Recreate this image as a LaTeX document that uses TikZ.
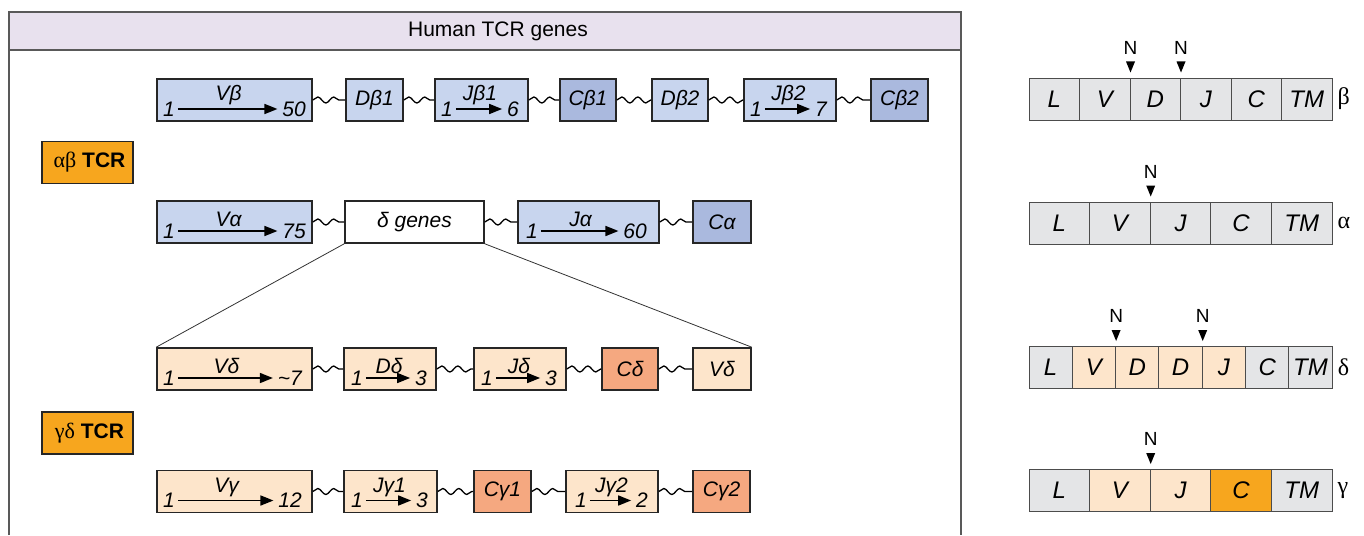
\documentclass[tikz,border=0pt]{standalone}
\usepackage{fontspec}
\setmainfont{Liberation Sans}
\newfontfamily\grkfont{Liberation Serif}
\usepackage{tikz}
\usetikzlibrary{arrows.meta, positioning, calc, decorations.pathmorphing}
\definecolor{bluLt}{HTML}{C8D5EE}
\definecolor{bluDk}{HTML}{AAB9DE}
\definecolor{pchLt}{HTML}{FDE5CB}
\definecolor{pchDk}{HTML}{F5A880}
\definecolor{orng}{HTML}{F7A61E}
\definecolor{cgry}{HTML}{E4E5E7}
\definecolor{lav}{HTML}{E8E1EE}
\tikzset{
  seg/.style ={draw=black!85, line width=1.6pt, minimum height=42pt, inner sep=0pt, font=\fontsize{21}{25}\selectfont\itshape},
  vB/.style  ={seg, fill=bluLt},
  cB/.style  ={seg, fill=bluDk},
  vD/.style  ={seg, fill=pchLt},
  cD/.style  ={seg, fill=pchDk},
  num/.style ={inner sep=0pt, outer sep=3pt, font=\fontsize{21}{25}\selectfont\itshape},
  arr/.style ={-{Triangle[length=13pt, width=10pt]}, line width=1.6pt, shorten >=2pt},
  wav/.style ={decorate, decoration={snake, amplitude=3pt, segment length=16pt}, line width=1.3pt},
  zm/.style  ={line width=0.8pt, black!80},
  frm/.style ={line width=1.4pt, black!65},
  tcr/.style ={draw=black!85, line width=1.4pt, fill=orng, minimum width=91pt, minimum height=42pt, font=\fontsize{21}{25}\selectfont},
  cell/.style={draw=black!70, line width=1pt, minimum height=42pt, inner sep=0pt, font=\fontsize{24}{28}\selectfont\itshape},
  nlab/.style={inner sep=0pt, font=\fontsize{19}{22}\selectfont},
  glab/.style={inner sep=0pt, font=\fontsize{24}{28}\selectfont\grkfont},
}

\begin{document}
\begin{tikzpicture}[x=1pt, y=-1pt]
  \useasboundingbox (0,0) rectangle (1364,535);
  \fill[lav] (9,12) rectangle (961,50);
  \draw[frm] (9,535) -- (9,12) -- (961,12) -- (961,535);
  \draw[frm] (9,50) -- (961,50);
  \node[font=\fontsize{21}{25}\selectfont] (ttl) at (498,31) {Human TCR genes};

  \node[tcr] (ab) at (87.5,162.5) {\hspace{4pt}{\grkfont\fontsize{22}{25}\selectfont αβ} \textbf{TCR}};
  \node[tcr] (gd) at (87.5,433) {\hspace{4pt}{\grkfont\fontsize{22}{25}\selectfont γδ} \textbf{TCR}};

  % beta locus
  \node[vB, minimum width=155pt] (vb) at (234.5,100) {};
  \node[num, anchor=west] (vb1) at ($(vb.west)+(4,9)$) {1};
  \node[num, anchor=east] (vbn) at ($(vb.east)+(-4,9)$) {50};
  \draw[arr] (vb1) -- (vbn) node[num, midway, above=1pt] (vbl) {Vβ};
  \node[vB, minimum width=57pt] (db1) at (374.5,100) {Dβ1};
  \node[vB, minimum width=93pt] (jb1) at (481.5,100) {};
  \node[num, anchor=west] (jb1a) at ($(jb1.west)+(4,9)$) {1};
  \node[num, anchor=east] (jb1b) at ($(jb1.east)+(-7,9)$) {6};
  \draw[arr] (jb1a) -- (jb1b) node[num, midway, above=1pt] (jb1l) {Jβ1};
  \node[cB, minimum width=56pt] (cb1) at (588,100) {Cβ1};
  \node[vB, minimum width=56pt] (db2) at (680,100) {Dβ2};
  \node[vB, minimum width=92pt] (jb2) at (790,100) {};
  \node[num, anchor=west] (jb2a) at ($(jb2.west)+(4,9)$) {1};
  \node[num, anchor=east] (jb2b) at ($(jb2.east)+(-7,9)$) {7};
  \draw[arr] (jb2a) -- (jb2b) node[num, midway, above=1pt] (jb2l) {Jβ2};
  \node[cB, minimum width=57pt] (cb2) at (899.5,100) {Cβ2};
  \draw[wav] (vb) -- (db1);  \draw[wav] (db1) -- (jb1); \draw[wav] (jb1) -- (cb1);
  \draw[wav] (cb1) -- (db2); \draw[wav] (db2) -- (jb2); \draw[wav] (jb2) -- (cb2);

  % alpha locus
  \node[vB, minimum width=155pt] (va) at (234.5,222) {};
  \node[num, anchor=west] (va1) at ($(va.west)+(4,9)$) {1};
  \node[num, anchor=east] (van) at ($(va.east)+(-4,9)$) {75};
  \draw[arr] (va1) -- (van) node[num, midway, above=1pt] (val) {Vα};
  \node[seg, fill=white, minimum width=139pt] (dg) at (414.5,222) {δ genes};
  \node[vB, minimum width=141pt] (ja) at (588.5,222) {};
  \node[num, anchor=west] (ja1) at ($(ja.west)+(6,9)$) {1};
  \node[num, anchor=east] (jan) at ($(ja.east)+(-10,9)$) {60};
  \draw[arr] (ja1) -- (jan) node[num, midway, above=1pt] (jal) {Jα};
  \node[cB, minimum width=58pt] (ca) at (722,222) {Cα};
  \draw[wav] (va) -- (dg); \draw[wav] (dg) -- (ja); \draw[wav] (ja) -- (ca);

  % delta locus
  \node[vD, minimum width=155pt] (vd) at (234.5,369) {};
  \node[num, anchor=west] (vd1) at ($(vd.west)+(4,9)$) {1};
  \node[num, anchor=east] (vdn) at ($(vd.east)+(-8,9)$) {\textasciitilde 7};
  \draw[arr] (vd1) -- (vdn) node[num, midway, above=1pt] (vdl) {Vδ};
  \node[vD, minimum width=92pt] (dd) at (390,369) {};
  \node[num, anchor=west] (dd1) at ($(dd.west)+(5,9)$) {1};
  \node[num, anchor=east] (ddn) at ($(dd.east)+(-7,9)$) {3};
  \draw[arr] (dd1) -- (ddn) node[num, midway, above=1pt] (ddl) {Dδ};
  \node[vD, minimum width=92pt] (jd) at (520,369) {};
  \node[num, anchor=west] (jd1) at ($(jd.west)+(5,9)$) {1};
  \node[num, anchor=east] (jdn) at ($(jd.east)+(-7,9)$) {3};
  \draw[arr] (jd1) -- (jdn) node[num, midway, above=1pt] (jdl) {Jδ};
  \node[cD, minimum width=56pt] (cd) at (630,369) {Cδ};
  \node[vD, minimum width=58pt] (vd2) at (722,369) {Vδ};
  \draw[wav] (vd) -- (dd); \draw[wav] (dd) -- (jd); \draw[wav] (jd) -- (cd); \draw[wav] (cd) -- (vd2);
  \draw[zm] (dg.south west) -- (vd.north west);
  \draw[zm] (dg.south east) -- (vd2.north east);

  % gamma locus
  \node[vD, minimum width=155pt] (vg) at (234.5,491.5) {};
  \node[num, anchor=west] (vg1) at ($(vg.west)+(4,9)$) {1};
  \node[num, anchor=east] (vgn) at ($(vg.east)+(-8,9)$) {12};
  \draw[arr] (vg1) -- (vgn) node[num, midway, above=1pt] (vgl) {Vγ};
  \node[vD, minimum width=93pt] (jg1) at (390.5,491.5) {};
  \node[num, anchor=west] (jg1a) at ($(jg1.west)+(5,9)$) {1};
  \node[num, anchor=east] (jg1b) at ($(jg1.east)+(-7,9)$) {3};
  \draw[arr] (jg1a) -- (jg1b) node[num, midway, above=1pt] (jg1l) {Jγ1};
  \node[cD, minimum width=57pt] (cg1) at (502.5,491.5) {Cγ1};
  \node[vD, minimum width=92pt] (jg2) at (612,491.5) {};
  \node[num, anchor=west] (jg2a) at ($(jg2.west)+(7,9)$) {1};
  \node[num, anchor=east] (jg2b) at ($(jg2.east)+(-8,9)$) {2};
  \draw[arr] (jg2a) -- (jg2b) node[num, midway, above=1pt] (jg2l) {Jγ2};
  \node[cD, minimum width=57pt] (cg2) at (721.5,491.5) {Cγ2};
  \draw[wav] (vg) -- (jg1); \draw[wav] (jg1) -- (cg1); \draw[wav] (cg1) -- (jg2); \draw[wav] (jg2) -- (cg2);

  % chains
  \foreach \t [count=\i] in {L,V,D,J,C,TM}
    \node[cell, fill=cgry, minimum width=50.5pt] (rb\i) at ({1029+50.5*(\i-0.5)},99) {\t};
  \node[glab, anchor=west] (rbg) at ($(rb6.east)+(5,0)$) {β};
  \foreach \t [count=\i] in {L,V,J,C,TM}
    \node[cell, fill=cgry, minimum width=60.6pt] (ra\i) at ({1029+60.6*(\i-0.5)},223) {\t};
  \node[glab, anchor=west] (rag) at ($(ra5.east)+(5,0)$) {α};
  \foreach \t/\f [count=\i] in {L/cgry,V/pchLt,D/pchLt,D/pchLt,J/pchLt,C/cgry,TM/cgry}
    \node[cell, fill=\f, minimum width=43.3pt] (rd\i) at ({1029+43.3*(\i-0.5)},367.5) {\t};
  \node[glab, anchor=west] (rdg) at ($(rd7.east)+(5,0)$) {δ};
  \foreach \t/\f [count=\i] in {L/cgry,V/pchLt,J/pchLt,C/orng,TM/cgry}
    \node[cell, fill=\f, minimum width=60.6pt] (rg\i) at ({1029+60.6*(\i-0.5)},490.5) {\t};
  \node[glab, anchor=west] (rgg) at ($(rg5.east)+(5,0)$) {γ};

  \foreach \c/\n in {rb2/nb1, rb3/nb2, ra2/na1, rd2/nd1, rd4/nd2, rg2/ng1} {
    \node[nlab] (\n) at ($(\c.north east)+(0,-30)$) {N};
    \fill (\c.north east) ++(-4.5,-16) -- ++(9,0) -- ++(-4.5,11) -- cycle;
  }
\end{tikzpicture}
\end{document}
